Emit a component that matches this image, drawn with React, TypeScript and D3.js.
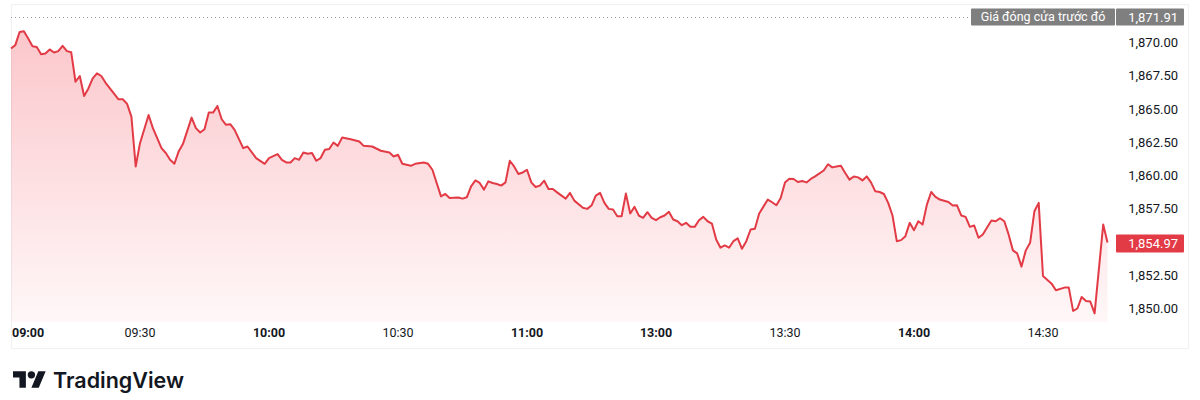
import React, { useRef, useEffect } from 'react';
import * as d3 from 'd3';

// session minutes: 0 = 09:00 ... 150 = 13:00 (lunch break removed), 255 = 14:45
const sessionMinute: number[] = [
  0, 1, 2, 3, 4, 5, 6, 7, 8, 9, 10, 11, 12, 13, 14, 15, 16, 17, 18, 19, 20, 21, 22, 23, 25, 26, 27, 28, 29, 30,
  32, 33, 35, 36, 37, 38, 39, 40, 42, 43, 44, 45, 46, 47, 48, 49, 50, 51, 52, 54, 55, 57, 59, 60, 62, 63, 64, 65,
  66, 67, 68, 69, 70, 71, 72, 73, 74, 75, 76, 77, 79, 81, 82, 84, 86, 88, 89, 90, 91, 93, 94, 96, 97, 98, 100,
  101, 102, 104, 105, 106, 107, 108, 109, 110, 111, 112, 113, 114, 115, 116, 117, 118, 119, 120, 121, 122, 123,
  124, 125, 126, 127, 129, 130, 131, 133, 134, 135, 136, 137, 138, 139, 140, 141, 142, 143, 144, 145, 146, 147,
  148, 149, 150, 151, 152, 153, 154, 155, 156, 157, 158, 159, 160, 161, 162, 163, 164, 165, 166, 167, 168, 169,
  170, 171, 172, 173, 174, 176, 177, 178, 179, 180, 181, 182, 183, 184, 185, 186, 187, 189, 190, 191, 192, 193,
  194, 195, 196, 197, 198, 199, 200, 201, 202, 203, 204, 205, 206, 207, 208, 209, 210, 211, 212, 213, 214, 215,
  216, 218, 219, 220, 221, 222, 223, 224, 225, 226, 228, 229, 230, 231, 232, 233, 234, 235, 236, 237, 238, 239,
  240, 242, 243, 245, 246, 247, 248, 249, 250, 251, 252, 254, 255,
];

const price: number[] = [
  1869.55, 1869.8, 1870.79, 1870.85, 1870.3, 1869.72, 1869.67, 1869.12, 1869.18, 1869.48, 1869.25, 1869.35,
  1869.75, 1869.35, 1869.27, 1867.05, 1867.48, 1865.98, 1866.55, 1867.3, 1867.68, 1867.48, 1866.97, 1866.55,
  1865.73, 1865.73, 1865.38, 1864.43, 1860.68, 1862.43, 1864.55, 1863.56, 1862.06, 1861.69, 1861.18, 1860.88,
  1861.81, 1862.38, 1864.35, 1863.56, 1863.23, 1863.48, 1864.73, 1864.73, 1865.23, 1864.23, 1863.81, 1863.86,
  1863.43, 1862.06, 1862.18, 1861.31, 1860.88, 1861.31, 1861.61, 1861.18, 1860.98, 1860.98, 1861.31, 1861.18,
  1861.73, 1861.63, 1861.69, 1861.11, 1861.31, 1861.93, 1861.99, 1862.48, 1862.23, 1862.85, 1862.73, 1862.55,
  1862.23, 1862.18, 1861.86, 1861.73, 1861.43, 1861.56, 1860.88, 1860.73, 1860.88, 1860.98, 1860.88, 1860.43,
  1858.43, 1858.61, 1858.31, 1858.34, 1858.26, 1858.36, 1859.18, 1859.63, 1859.44, 1858.94, 1859.56, 1859.44,
  1859.36, 1859.24, 1859.48, 1861.11, 1860.68, 1860.11, 1860.23, 1860.43, 1859.48, 1859.14, 1859.24, 1859.61,
  1858.99, 1858.99, 1858.73, 1858.26, 1858.69, 1858.11, 1857.57, 1857.49, 1857.74, 1858.49, 1858.69, 1857.94,
  1857.49, 1857.44, 1856.94, 1856.94, 1858.64, 1857.14, 1857.64, 1856.99, 1856.82, 1857.24, 1856.82, 1856.64,
  1856.86, 1856.99, 1857.27, 1856.69, 1856.56, 1856.26, 1856.44, 1856.14, 1856.14, 1856.64, 1856.89, 1856.56,
  1856.39, 1855.19, 1854.57, 1854.74, 1854.57, 1855.06, 1855.27, 1854.49, 1855.06, 1855.94, 1855.99, 1857.14,
  1858.19, 1857.99, 1857.76, 1858.31, 1859.48, 1859.76, 1859.74, 1859.51, 1859.59, 1859.48, 1859.74, 1859.93,
  1860.38, 1860.85, 1860.61, 1860.68, 1860.73, 1860.19, 1859.69, 1859.93, 1859.86, 1859.63, 1859.93, 1859.48,
  1858.81, 1858.76, 1858.61, 1857.94, 1856.99, 1855.06, 1855.14, 1855.44, 1856.44, 1855.89, 1856.56, 1856.31,
  1857.81, 1858.76, 1858.39, 1858.19, 1858.01, 1857.74, 1857.76, 1856.99, 1856.89, 1856.14, 1856.24, 1855.32,
  1855.57, 1856.61, 1856.56, 1856.79, 1856.56, 1855.57, 1854.37, 1854.14, 1853.15, 1854.37, 1854.94, 1857.31,
  1857.94, 1852.44, 1851.87, 1851.37, 1851.57, 1851.57, 1849.82, 1850.0, 1850.87, 1850.57, 1850.52, 1849.63,
  1856.31, 1854.97,
];

const timeTickMinutes: number[] = [0, 30, 60, 90, 120, 150, 180, 210, 240];
const timeTickLabels: string[] = ['09:00', '09:30', '10:00', '10:30', '11:00', '13:00', '13:30', '14:00', '14:30'];
const timeTickBold: boolean[] = [true, false, true, false, true, true, false, true, false];

const priceTicks: number[] = [1850, 1852.5, 1855, 1857.5, 1860, 1862.5, 1865, 1867.5, 1870];

const prevClose = 1871.91;
const prevCloseLabel = 'Giá đóng cửa trước đó';

const FONT = "-apple-system, BlinkMacSystemFont, 'Trebuchet MS', Roboto, Ubuntu, sans-serif";

const App: React.FC = () => {
  const svgRef = useRef<SVGSVGElement | null>(null);

  useEffect(() => {
    const svg = d3.select(svgRef.current);
    svg.selectAll('*').remove();

    const width = 1200;
    const plotLeft = 11;
    const plotRight = 1110;
    const paneBottom = 322;

    const x = d3.scaleLinear().domain([0, 255]).range([plotLeft, 1107.5]);
    const y = d3.scaleLinear().domain([1850, 1870]).range([308.5, 42.5]);

    const data = sessionMinute.map((m, i) => ({ m, v: price[i] }));
    const fmt = d3.format(',.2f');

    // frame
    svg.append('rect')
      .attr('x', 11.5).attr('y', 4.5)
      .attr('width', 1188 - 11).attr('height', 348 - 4)
      .attr('fill', '#ffffff')
      .attr('stroke', '#f0f1f4');

    const defs = svg.append('defs');
    const grad = defs.append('linearGradient')
      .attr('id', 'areaFill')
      .attr('gradientUnits', 'userSpaceOnUse')
      .attr('x1', 0).attr('x2', 0)
      .attr('y1', y(1871)).attr('y2', paneBottom);
    grad.append('stop').attr('offset', '0%').attr('stop-color', '#f23645').attr('stop-opacity', 0.28);
    grad.append('stop').attr('offset', '100%').attr('stop-color', '#f23645').attr('stop-opacity', 0.04);

    const area = d3.area<{ m: number; v: number }>()
      .x(d => x(d.m))
      .y0(paneBottom)
      .y1(d => y(d.v));

    const line = d3.line<{ m: number; v: number }>()
      .x(d => x(d.m))
      .y(d => y(d.v));

    svg.append('path').datum(data).attr('d', area).attr('fill', 'url(#areaFill)');

    // previous close dotted line
    svg.append('line')
      .attr('x1', plotLeft).attr('x2', plotRight)
      .attr('y1', Math.round(y(prevClose)) + 0.5).attr('y2', Math.round(y(prevClose)) + 0.5)
      .attr('stroke', '#9598a1')
      .attr('stroke-width', 1)
      .attr('stroke-dasharray', '1 3');

    svg.append('path').datum(data)
      .attr('d', line)
      .attr('fill', 'none')
      .attr('stroke', '#e23b46')
      .attr('stroke-width', 2)
      .attr('stroke-linejoin', 'round');

    // price axis
    svg.append('g')
      .selectAll('text')
      .data(priceTicks)
      .enter()
      .append('text')
      .attr('x', 1178)
      .attr('y', d => y(d))
      .attr('dy', '0.35em')
      .attr('text-anchor', 'end')
      .attr('font-family', FONT)
      .attr('font-size', 13)
      .attr('fill', '#131722')
      .text(d => fmt(d));

    // previous close label
    const pcY = y(prevClose);
    svg.append('rect').attr('x', 971).attr('y', pcY - 8.5).attr('width', 144).attr('height', 17).attr('fill', '#7f7f7f').attr('rx', 1);
    svg.append('rect').attr('x', 1116).attr('y', pcY - 8.5).attr('width', 68).attr('height', 17).attr('fill', '#7f7f7f').attr('rx', 1);
    svg.append('text')
      .attr('x', 1043).attr('y', pcY).attr('dy', '0.35em')
      .attr('text-anchor', 'middle')
      .attr('font-family', FONT).attr('font-size', 12.5)
      .attr('fill', '#ffffff')
      .text(prevCloseLabel);
    svg.append('text')
      .attr('x', 1178).attr('y', pcY).attr('dy', '0.35em')
      .attr('text-anchor', 'end')
      .attr('font-family', FONT).attr('font-size', 13)
      .attr('fill', '#ffffff')
      .text(fmt(prevClose));

    // last price label
    const last = price[price.length - 1];
    const lastY = y(last);
    svg.append('rect').attr('x', 1116).attr('y', lastY - 8).attr('width', 68).attr('height', 18).attr('fill', '#e23b46').attr('rx', 1);
    svg.append('text')
      .attr('x', 1178).attr('y', lastY + 1).attr('dy', '0.35em')
      .attr('text-anchor', 'end')
      .attr('font-family', FONT).attr('font-size', 13)
      .attr('fill', '#ffffff')
      .text(fmt(last));

    // time axis
    svg.append('g')
      .selectAll('text')
      .data(timeTickMinutes)
      .enter()
      .append('text')
      .attr('x', (d, i) => (i === 0 ? plotLeft + 1 : x(d)))
      .attr('y', 333)
      .attr('dy', '0.35em')
      .attr('text-anchor', (d, i) => (i === 0 ? 'start' : 'middle'))
      .attr('font-family', FONT)
      .attr('font-size', 12.5)
      .attr('font-weight', (d, i) => (timeTickBold[i] ? 700 : 400))
      .attr('fill', '#131722')
      .text((d, i) => timeTickLabels[i]);

    // TradingView logo
    const logo = svg.append('g').attr('transform', 'translate(13,367.5) scale(0.92)').attr('fill', '#131722');
    logo.append('path').attr('d', 'M14 22H7V11H0V4h14v18ZM28 22h-8l7.5-18h8L28 22Z');
    logo.append('circle').attr('cx', 20).attr('cy', 8).attr('r', 4);
    svg.append('text')
      .attr('x', 53).attr('y', 387.5)
      .attr('font-family', 'Inter, Roboto, sans-serif')
      .attr('font-size', 21.5)
      .attr('font-weight', 600)
      .attr('fill', '#131722')
      .text('TradingView');

    svg.attr('width', width);
  }, []);

  return (
    <div style={{ position: 'fixed', left: 0, top: 0 }}>
      <svg ref={svgRef} width={1200} height={400} style={{ display: 'block', background: '#ffffff' }}></svg>
    </div>
  );
};

export default App;
